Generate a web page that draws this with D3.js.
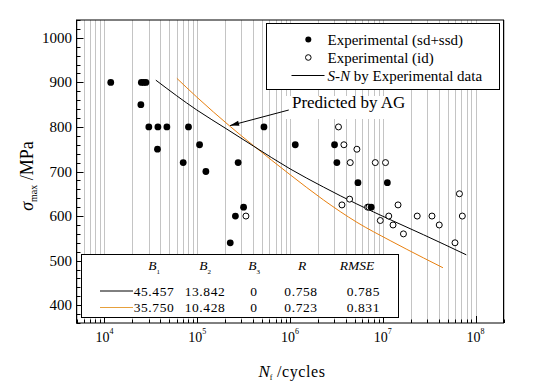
<!DOCTYPE html>
<html><head><meta charset="utf-8">
<script src="https://cdn.jsdelivr.net/npm/d3@7"></script>
<style>
html,body{margin:0;padding:0;background:#fff;}
svg{display:block;font-family:"Liberation Serif","Times New Roman",serif;}
</style>
</head><body>
<svg id="chart" width="547" height="383"></svg>
<script>
// ---- data ----
const filledN = [1.17e4, 2.5e4, 2.65e4, 2.8e4, 2.47e4, 3.01e4, 3.77e4, 4.71e4, 3.73e4, 8.05e4, 1.06e5, 7.06e4, 1.24e5, 2.76e5, 5.24e5, 1.14e6, 3.16e5, 2.58e5, 2.27e5, 3.02e6, 3.2e6, 5.4e6, 1.12e7, 7.5e6];
const filledS = [900, 900, 900, 900, 850, 800, 800, 800, 750, 800, 760, 720, 700, 720, 800, 760, 620, 600, 540, 760, 720, 675, 675, 620];
const openN = [3.35e5, 3.33e6, 3.81e6, 5.26e6, 4.46e6, 8.3e6, 1.07e7, 4.39e6, 3.63e6, 6.86e6, 7.1e6, 1.46e7, 1.16e7, 9.4e6, 1.29e7, 1.67e7, 2.35e7, 3.39e7, 4.06e7, 6.7e7, 7.2e7, 6.0e7];
const openS = [600, 800, 760, 750, 720, 720, 720, 638, 625, 620, 620, 625, 600, 590, 580, 560, 600, 600, 580, 650, 600, 540];
const snN = [3.58e4, 9.9e4, 2.09e5, 4.04e5, 1.0e6, 2.3e6, 5.26e6, 1.2e7, 2.75e7, 7.94e7];
const snS = [905, 838, 795, 757, 706, 665, 627, 592, 558, 513];
const agN = [6.04e4, 9.9e4, 2.27e5, 4.04e5, 1.0e6, 2.3e6, 5.26e6, 1.2e7, 2.75e7, 4.45e7];
const agS = [909, 867, 801, 758, 693, 636, 586, 545, 506, 484];
const yTickValues = [400, 500, 600, 700, 800, 900, 1000];
const xTickExponents = [4, 5, 6, 7, 8];
const legendLabels = ["Experimental (sd+ssd)", "Experimental (id)", "by Experimental data"];
const tableHeaders = ["B1", "B2", "B3", "R", "RMSE"];
const tableRowSN = ["45.457", "13.842", "0", "0.758", "0.785"];
const tableRowAG = ["35.750", "10.428", "0", "0.723", "0.831"];
const annotationText = "Predicted by AG";

// ---- layout ----
const svg = d3.select("#chart");
const L = 76.5, R = 503.5, T = 20, B = 323;
const x = d3.scaleLog().domain([5e3, 2e8]).range([L, R]);
const y = d3.scaleLinear().domain([360, 1040]).range([B, T]);
const orange = "#e8800f";
const px = v => Math.round(v) + 0.5;

svg.append("rect").attr("width", 547).attr("height", 383).attr("fill", "#fff");

// vertical grid lines
const logTicks = x.ticks();
svg.append("g").selectAll("line").data(logTicks).join("line")
  .attr("x1", d => px(x(d))).attr("x2", d => px(x(d)))
  .attr("y1", T).attr("y2", B)
  .attr("stroke", "#c4c4c4").attr("stroke-width", 1);

// lines
const lineGen = d3.line().x(d => x(d[0])).y(d => y(d[1])).curve(d3.curveMonotoneX);
svg.append("path").datum(d3.zip(agN, agS)).attr("d", lineGen)
  .attr("fill", "none").attr("stroke", orange).attr("stroke-width", 1);
svg.append("path").datum(d3.zip(snN, snS)).attr("d", lineGen)
  .attr("fill", "none").attr("stroke", "#000").attr("stroke-width", 1);

// points
svg.append("g").selectAll("circle").data(d3.zip(openN, openS)).join("circle")
  .attr("cx", d => x(d[0])).attr("cy", d => y(d[1])).attr("r", 3)
  .attr("fill", "#fff").attr("stroke", "#000").attr("stroke-width", 1);
svg.append("g").selectAll("circle").data(d3.zip(filledN, filledS)).join("circle")
  .attr("cx", d => x(d[0])).attr("cy", d => y(d[1])).attr("r", 3.4)
  .attr("fill", "#000");

// frame
svg.append("rect").attr("x", L).attr("y", T).attr("width", R - L).attr("height", B - T)
  .attr("fill", "none").attr("stroke", "#000").attr("stroke-width", 1);

// left ticks (inward)
const yMinor = d3.range(360, 1041, 20);
svg.append("g").selectAll("line").data(yMinor).join("line")
  .attr("x1", L).attr("x2", d => L + (d % 100 === 0 ? 7 : 4))
  .attr("y1", d => px(y(d))).attr("y2", d => px(y(d)))
  .attr("stroke", "#000");
// bottom ticks (inward)
svg.append("g").selectAll("line").data(logTicks).join("line")
  .attr("x1", d => px(x(d))).attr("x2", d => px(x(d)))
  .attr("y1", B).attr("y2", d => B - (Math.abs(Math.log10(d) - Math.round(Math.log10(d))) < 1e-9 ? 7 : 3.5))
  .attr("stroke", "#000");

// y tick labels
svg.append("g").selectAll("text").data(yTickValues).join("text")
  .attr("x", 72).attr("y", d => y(d) + 5)
  .attr("text-anchor", "end").attr("font-size", 15).text(d => d);

// x tick labels
const xl = svg.append("g").selectAll("text").data(xTickExponents).join("text")
  .attr("x", d => x(Math.pow(10, d))).attr("y", 342)
  .attr("text-anchor", "middle").attr("font-size", 14);
xl.append("tspan").text("10");
xl.append("tspan").attr("font-size", 8).attr("dy", -8).text(d => d);

// axis titles
const yt = svg.append("text").attr("transform", "translate(33,176) rotate(-90)")
  .attr("text-anchor", "middle").attr("font-size", 18);
yt.append("tspan").attr("font-style", "italic").text("σ");
yt.append("tspan").attr("font-size", 10).attr("dy", 4).text("max");
yt.append("tspan").attr("dy", -4).text(" /MPa");

const xt = svg.append("text").attr("x", 292).attr("y", 377)
  .attr("text-anchor", "middle").attr("font-size", 16);
xt.append("tspan").attr("font-style", "italic").attr("font-size", 17).text("N");
xt.append("tspan").attr("font-size", 8).attr("dy", 3).text("f");
xt.append("tspan").attr("dy", -3).attr("letter-spacing", 0.6).text(" /cycles");

// legend
const lg = svg.append("g");
lg.append("rect").attr("x", 266.5).attr("y", 23.5).attr("width", 233).attr("height", 66)
  .attr("fill", "#fff").attr("stroke", "#000");
lg.append("circle").attr("cx", 308.3).attr("cy", 39.5).attr("r", 3).attr("fill", "#000");
lg.append("circle").attr("cx", 308.3).attr("cy", 57.5).attr("r", 2.8).attr("fill", "#fff").attr("stroke", "#000");
lg.append("line").attr("x1", 291.5).attr("x2", 324.5).attr("y1", 75.5).attr("y2", 75.5).attr("stroke", "#000");
lg.append("text").attr("x", 327.5).attr("y", 44.5).attr("font-size", 15).text(legendLabels[0]);
lg.append("text").attr("x", 327.5).attr("y", 62.5).attr("font-size", 15).text(legendLabels[1]);
const l3 = lg.append("text").attr("x", 327.5).attr("y", 80.5).attr("font-size", 15);
l3.append("tspan").attr("font-style", "italic").text("S-N");
l3.append("tspan").text(" " + legendLabels[2]);

// annotation (anchored in data space)
const tip = [x(2.26e5), y(803)], start = [x(9.7e5), y(838)];
svg.append("rect").attr("x", 283).attr("y", 96).attr("width", 126).attr("height", 23).attr("fill", "#fff");
svg.append("text").attr("x", x(1.05e6)).attr("y", y(842)).attr("font-size", 17).text(annotationText);
svg.append("line").attr("x1", start[0]).attr("y1", start[1]).attr("x2", tip[0]).attr("y2", tip[1])
  .attr("stroke", "#000").attr("stroke-width", 1);
{
  const dx = tip[0] - start[0], dy = tip[1] - start[1], len = Math.hypot(dx, dy);
  const ux = dx / len, uy = dy / len, hl = 9, hw = 2.6;
  const bx = tip[0] - ux * hl, by = tip[1] - uy * hl;
  svg.append("path").attr("d", `M${tip[0]},${tip[1]}L${bx - uy * hw},${by + ux * hw}L${bx + uy * hw},${by - ux * hw}Z`)
    .attr("fill", "#000");
}

// parameter table
const tb = svg.append("g");
tb.append("rect").attr("x", 81.5).attr("y", 254.5).attr("width", 317).attr("height", 63)
  .attr("fill", "#fff").attr("stroke", "#000");
const colX = [154, 205, 254, 302, 357];
tableHeaders.forEach((h, i) => {
  const t = tb.append("text").attr("x", colX[i]).attr("y", 270).attr("text-anchor", "middle")
    .attr("font-size", 13.5).attr("font-style", "italic");
  if (h[0] === "B") {
    t.append("tspan").text("B");
    t.append("tspan").attr("font-size", 7).attr("dy", 4).attr("font-style", "normal").text(h.slice(1));
  } else t.text(h);
});
[[tableRowSN, 295.5, "#000"], [tableRowAG, 312, "#e6a03c"]].forEach(([row, yy, c]) => {
  tb.append("line").attr("x1", 100).attr("x2", 133).attr("y1", yy - 4.5).attr("y2", yy - 4.5)
    .attr("stroke", c).attr("stroke-width", 1);
  row.forEach((v, i) => {
    tb.append("text").attr("x", i === 4 ? 380 : colX[i] - (i === 3 ? 1 : 0)).attr("y", yy)
      .attr("text-anchor", i === 4 ? "end" : "middle").attr("font-size", 13.5)
      .attr("letter-spacing", 0.6).text(v);
  });
});
</script>
</body></html>
